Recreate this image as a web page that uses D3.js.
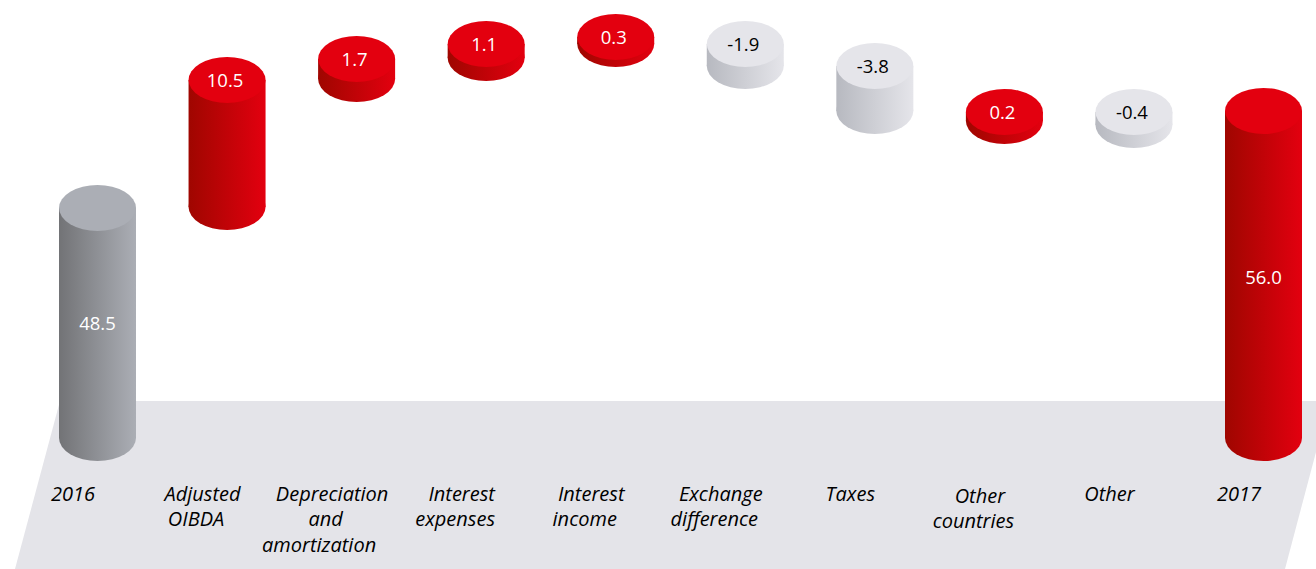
<!DOCTYPE html>
<html>
<head>
<meta charset="utf-8">
<script src="https://cdn.jsdelivr.net/npm/d3@7"></script>
<style>
  html, body { margin: 0; padding: 0; background: #fff; overflow: hidden; }
  svg { display: block; }
</style>
</head>
<body>
<svg id="chart"></svg>
<script>
const categories = [
    ['2016'], ['Adjusted', 'OIBDA'], ['Depreciation', 'and', 'amortization'],
    ['Interest', 'expenses'], ['Interest', 'income'], ['Exchange', 'difference'],
    ['Taxes'], ['Other', 'countries'], ['Other'], ['2017']
]
const valueLabels = ['48.5', '10.5', '1.7', '1.1', '0.3', '-1.9', '-3.8', '0.2', '-0.4', '56.0']
const kinds = ['total', 'up', 'up', 'up', 'up', 'down', 'down', 'up', 'down', 'grand']

// bar ends, the axis is cut at 30
const barTops = [48.4, 58.64, 60.32, 61.52, 62.08, 61.52, 59.76, 56.08, 56.08, 56.16]
const barBottoms = [30, 48.48, 58.72, 60.4, 61.52, 59.76, 56.16, 55.36, 55.04, 30]

const width = 1316
const height = 569

const svg = d3.select('#chart')
    .attr('width', width)
    .attr('height', height)
    .attr('viewBox', `0 0 ${width} ${height}`)

// set up scales
const xScale = d3.scalePoint()
    .domain(d3.range(categories.length))
    .range([97.5, 1263.5])
const yScale = d3.scaleLinear()
    .domain([30, 62])
    .range([438, 38])

const rx = 38.5
const ry = 23

const palette = {
    up: {top: '#e3000f', dark: '#9f0600', light: '#e3000f', text: '#fff'},
    grand: {top: '#e3000f', dark: '#9f0600', light: '#e3000f', text: '#fff'},
    total: {top: '#abaeb5', dark: '#727376', light: '#abaeb5', text: '#fff'},
    down: {top: '#e5e5ea', dark: '#b7b9c0', light: '#e5e5ea', text: '#000'}
}

// side gradients
const defs = svg.append('defs')
Object.keys(palette).forEach(k => {
    const grad = defs.append('linearGradient').attr('id', `side-${k}`)
    grad.append('stop').attr('offset', '0%').attr('stop-color', palette[k].dark)
    grad.append('stop').attr('offset', '100%').attr('stop-color', palette[k].light)
})

// floor
svg.append('path')
    .attr('d', 'M60,401L1316,401L1316,452L1285,569L15,569Z')
    .attr('fill', '#e4e4e9')

// cylinders
const bars = svg.selectAll('.bar')
    .data(categories.map((c, i) => i))
    .enter()
    .append('g')
        .attr('class', 'bar')

bars.append('ellipse')
    .attr('cx', i => xScale(i))
    .attr('cy', i => yScale(barBottoms[i]))
    .attr('rx', rx)
    .attr('ry', ry)
    .attr('fill', i => `url(#side-${kinds[i]})`)
bars.append('rect')
    .attr('x', i => xScale(i) - rx)
    .attr('y', i => yScale(barTops[i]))
    .attr('width', rx * 2)
    .attr('height', i => yScale(barBottoms[i]) - yScale(barTops[i]))
    .attr('fill', i => `url(#side-${kinds[i]})`)
bars.append('ellipse')
    .attr('cx', i => xScale(i))
    .attr('cy', i => yScale(barTops[i]))
    .attr('rx', rx)
    .attr('ry', ry)
    .attr('fill', i => palette[kinds[i]].top)

// value labels, totals sit mid bar and the rest on the lid
bars.append('text')
    .attr('x', i => xScale(i) - (kinds[i] === 'total' || kinds[i] === 'grand' ? 0 : 2))
    .attr('y', i => {
        if (kinds[i] === 'total' || kinds[i] === 'grand') {
            return (yScale(barTops[i]) + yScale(barBottoms[i])) / 2 + (kinds[i] === 'grand' ? 9 : 7)
        }
        return yScale(barTops[i]) + 7
    })
    .attr('text-anchor', 'middle')
    .attr('font-family', '"Open Sans", sans-serif')
    .attr('font-size', 18.5)
    .attr('fill', i => palette[kinds[i]].text)
    .text(i => valueLabels[i])

// category labels follow the slant of the floor
const labels = svg.selectAll('.cat')
    .data(categories)
    .enter()
    .append('text')
        .attr('class', 'cat')
        .attr('text-anchor', 'middle')
        .attr('font-family', '"Open Sans", sans-serif')
        .attr('font-style', 'italic')
        .attr('font-size', 20)
        .attr('fill', '#000')

labels.selectAll('tspan')
    .data((lines, i) => lines.map((line, n) => ({line, n, i})))
    .enter()
    .append('tspan')
        .attr('x', d => xScale(d.i) - 24.5 - d.n * 6.5)
        .attr('y', d => 500.5 + d.n * 25.5 + (d.i === 7 ? 2 : 0))
        .text(d => d.line)
</script>
</body>
</html>
